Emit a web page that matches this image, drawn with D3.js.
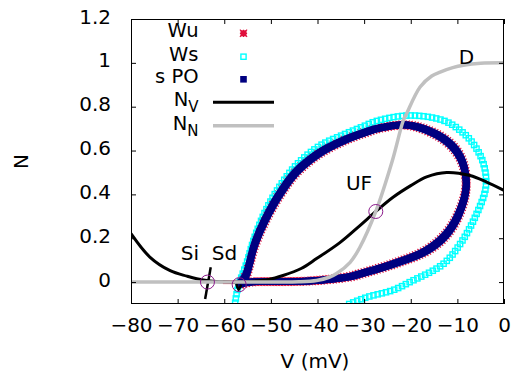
<!DOCTYPE html>
<html><head><meta charset="utf-8">
<script src="https://cdn.jsdelivr.net/npm/d3@7/dist/d3.min.js"></script>
<style>
html,body{margin:0;padding:0;background:#fff;}
svg text{font-family:"DejaVu Sans",sans-serif;fill:#000;}
</style></head>
<body>
<svg id="chart" width="516" height="374"></svg>
<script>
// ---------------- data ----------------
const xTicks = [-80,-70,-60,-50,-40,-30,-20,-10,0];
const yTicks = [0,0.2,0.4,0.6,0.8,1,1.2];

// N_V nullcline (black)
const nvV = [-80,-75.9,-71.6,-68,-65.9,-63,-60,-56.8,-54.5,-50.5,-47.4,-43.5,-40.2,-35.2,-30.9,-27.5,-23.8,-20,-16.6,-12.3,-7.3,-3.7,0];
const nvN = [0.221,0.113,0.052,0.027,0.015,0.005,0.001,0.0,0.003,0.012,0.03,0.062,0.107,0.18,0.258,0.322,0.387,0.44,0.48,0.50,0.486,0.456,0.418];
// short steep pieces of N_V near Si and Sd
const nvSiV = [-62.9,-64.1];
const nvSiN = [0.068,-0.077];
const nvSdV = [-57.4,-56.9,-56.4];
const nvSdN = [-0.008,-0.035,-0.012];

// N_N nullcline (gray)
const nnV = [-80,-50,-44,-40.2,-37.5,-35.9,-33,-30.9,-27.5,-24,-21.6,-20.9,-18,-15.5,-13.7,-11,-8.7,-5,0];
const nnN = [0,0,0.001,0.007,0.022,0.039,0.09,0.159,0.322,0.55,0.737,0.768,0.89,0.94,0.958,0.978,0.989,0.998,1.0];

// stable periodic orbit (navy)
const poV = [-56.8,-55.5,-53.4,-50.9,-48,-44.5,-39.5,-34.5,-30.2,-26.6,-20.2,-13,-9.4,-8.1,-9.4,-12.3,-16.6,-23.7,-30.9,-33,-40.2,-47,-54.5,-56.8];
const poN = [-0.01,0.025,0.177,0.298,0.405,0.504,0.59,0.645,0.68,0.703,0.715,0.654,0.57,0.448,0.326,0.22,0.144,0.083,0.037,0.025,0.007,0.002,0.0,-0.01];

// unstable manifold of Sd (red)
const wuV = [-56.8,-55.5,-53.4,-50.9,-48,-44.5,-39.5,-34.5,-30.2,-26.6,-20.2,-13,-9.4,-8.1,-9.4,-12.3,-16.6,-23.7,-30.9,-33,-40.2,-47,-54.5,-56.8];
const wuN = [-0.01,0.025,0.177,0.298,0.405,0.504,0.59,0.645,0.68,0.703,0.715,0.654,0.57,0.448,0.326,0.22,0.144,0.083,0.037,0.025,0.007,0.002,0.0,-0.01];
const wuLeftV = [-56.8,-58.5,-60.3];
const wuLeftN = [0.0,0.0,0.0];

// stable manifold of Sd (cyan)
const wsV = [-33.2,-29.4,-23.7,-20.2,-13,-9.4,-6.2,-3.9,-4.4,-6.6,-9.4,-13,-20.2,-27.3,-30.2,-34.5,-39.5,-44.5,-48,-50.9,-53.4,-55.3,-57.0,-57.7];
const wsN = [-0.1,-0.069,-0.036,0.0,0.083,0.174,0.296,0.433,0.54,0.631,0.692,0.737,0.76,0.735,0.71,0.672,0.622,0.535,0.44,0.335,0.21,0.08,-0.02,-0.1];

// equilibria
const eqNames = ["Si","Sd","UF"];
const eqV = [-63.6,-56.8,-27.5];
const eqN = [0.0,-0.012,0.322];

const legendNames = ["Wu","Ws","s PO"];

// ---------------- drawing ----------------
const svg = d3.select("#chart");
const L = 131, R = 504, T = 19, B = 304;
const x = d3.scaleLinear().domain([-80,0]).range([L,R]);
const y = d3.scaleLinear().domain([-0.1,1.2]).range([B,T]);

svg.append("defs").append("clipPath").attr("id","clip")
  .append("rect").attr("x",L).attr("y",T).attr("width",R-L).attr("height",B-T);

const plot = svg.append("g").attr("clip-path","url(#clip)");
const line = d3.line().x(d=>x(d[0])).y(d=>y(d[1])).curve(d3.curveCatmullRom.alpha(0.5));
const zip = (a,b)=>a.map((v,i)=>[v,b[i]]);

function samplePath(pts, step){
  const p = plot.append("path").attr("d", line(pts)).attr("fill","none").attr("stroke","none");
  const node = p.node(), len = node.getTotalLength(), out=[];
  for(let s=0;s<=len;s+=step){ const q=node.getPointAtLength(s); out.push([q.x,q.y]); }
  p.remove();
  return out;
}

// Wu (red stars)
const red = "#e0103c";
plot.append("path").attr("d", line(zip(wuLeftV,wuLeftN))).attr("fill","none")
  .attr("stroke",red).attr("stroke-width",4);
const wuPts = samplePath(zip(wuV,wuN), 3);
const starG = plot.append("g").attr("stroke",red).attr("stroke-width",1.1);
wuPts.forEach(p=>{
  const s=4.2;
  starG.append("path").attr("d",`M${p[0]-s},${p[1]-s}L${p[0]+s},${p[1]+s}M${p[0]-s},${p[1]+s}L${p[0]+s},${p[1]-s}M${p[0]-s},${p[1]}L${p[0]+s},${p[1]}M${p[0]},${p[1]-s}L${p[0]},${p[1]+s}`);
});

// Ws (cyan open squares)
const wsPts = samplePath(zip(wsV,wsN), 4.3);
plot.append("g").selectAll("rect").data(wsPts).join("rect")
  .attr("x",d=>d[0]-2.6).attr("y",d=>d[1]-2.6).attr("width",5.2).attr("height",5.2)
  .attr("fill","none").attr("stroke","#00ffff").attr("stroke-width",1.4);

// s PO (navy filled squares)
const poPts = samplePath(zip(poV,poN), 1.2);
plot.append("g").selectAll("rect").data(poPts).join("rect")
  .attr("x",d=>d[0]-3.3).attr("y",d=>d[1]-3.3).attr("width",6.6).attr("height",6.6)
  .attr("fill","#000080");

// N_V
plot.append("path").attr("d", line(zip(nvV,nvN))).attr("fill","none").attr("stroke","#000").attr("stroke-width",3);
plot.append("path").attr("d", line(zip(nvSiV,nvSiN))).attr("fill","none").attr("stroke","#000").attr("stroke-width",2.5);
plot.append("path").attr("d", line(zip(nvSdV,nvSdN))).attr("fill","none").attr("stroke","#000").attr("stroke-width",2.5);

// N_N
plot.append("path").attr("d", line(zip(nnV,nnN))).attr("fill","none").attr("stroke","#c0c0c0").attr("stroke-width",3.5);

// equilibria circles
plot.append("g").selectAll("circle").data(eqV).join("circle")
  .attr("cx",(d,i)=>x(eqV[i])).attr("cy",(d,i)=>y(eqN[i])).attr("r",7)
  .attr("fill","none").attr("stroke","#8b1a8b").attr("stroke-width",1);

// ---------------- axes / frame ----------------
const fs = "20px";
const ax = svg.append("g");
const gB = ax.append("g").attr("transform",`translate(0,${B})`)
  .call(d3.axisBottom(x).tickValues(xTicks).tickSizeInner(-5).tickSizeOuter(0).tickPadding(13.5).tickFormat(d3.format("d")));
const gT = ax.append("g").attr("transform",`translate(0,${T})`)
  .call(d3.axisTop(x).tickValues(xTicks).tickSizeInner(-5).tickSizeOuter(0).tickFormat(""));
const gL = ax.append("g").attr("transform",`translate(${L},0)`)
  .call(d3.axisLeft(y).tickValues(yTicks).tickSizeInner(-5).tickSizeOuter(0).tickPadding(20).tickFormat(d=>String(+d.toFixed(1))));
const gR = ax.append("g").attr("transform",`translate(${R},0)`)
  .call(d3.axisRight(y).tickValues(yTicks).tickSizeInner(-5).tickSizeOuter(0).tickFormat(""));
[gB,gT,gL,gR].forEach(g=>{
  g.select(".domain").remove();
  g.selectAll("line").attr("stroke","#000").attr("stroke-width",1);
  g.selectAll("text").style("font-size",fs).attr("fill","#000").style("font-family","DejaVu Sans");
});
gL.selectAll("text").attr("dy","0.2em");
svg.append("rect").attr("x",L+0.5).attr("y",T+0.5).attr("width",R-L-1).attr("height",B-T-1)
  .attr("fill","none").attr("stroke","#000").attr("stroke-width",1);

// axis titles
svg.append("text").attr("x",315).attr("y",368).attr("text-anchor","middle").style("font-size",fs).text("V (mV)");
svg.append("text").attr("transform","translate(28,161.5) rotate(-90)").attr("text-anchor","middle").style("font-size",fs).text("N");

// annotations
const ann = [["Si",190,260],["Sd",224.5,260],["UF",359,189.5],["D",466.5,64]];
ann.forEach(a=>svg.append("text").attr("x",a[1]).attr("y",a[2]).attr("text-anchor","middle").style("font-size",fs).text(a[0]));

// ---------------- legend ----------------
const lgX = 198.5, mX = 243.5;
const lg = svg.append("g");
const base = [36.7,61,83.3,106,130];
legendNames.forEach((n,i)=>lg.append("text").attr("x",lgX).attr("y",base[i]).attr("text-anchor","end").style("font-size","19.5px").text(n));
// markers
{
  const cy=33.3, s=3.6;
  lg.append("rect").attr("x",mX-3).attr("y",cy-3).attr("width",6).attr("height",6).attr("fill",red);
  lg.append("path").attr("d",`M${mX-s},${cy-s}L${mX+s},${cy+s}M${mX-s},${cy+s}L${mX+s},${cy-s}M${mX-s},${cy}L${mX+s},${cy}M${mX},${cy-s}L${mX},${cy+s}`).attr("stroke",red).attr("stroke-width",1.2);
  lg.append("rect").attr("x",mX-2.6).attr("y",56.7-2.6).attr("width",5.2).attr("height",5.2).attr("fill","none").attr("stroke","#00ffff").attr("stroke-width",1.4);
  lg.append("rect").attr("x",mX-3.3).attr("y",79.3-3.3).attr("width",6.6).attr("height",6.6).attr("fill","#000080");
}
function subLabel(yb, sub){
  const t = lg.append("text").attr("x",lgX).attr("y",yb).attr("text-anchor","end").style("font-size","19.5px");
  t.append("tspan").text("N");
  t.append("tspan").attr("dy",5.5).style("font-size","15px").text(sub);
}
subLabel(106,"V");
subLabel(130,"N");
lg.append("line").attr("x1",213).attr("x2",274).attr("y1",102.3).attr("y2",102.3).attr("stroke","#000").attr("stroke-width",3);
lg.append("line").attr("x1",213).attr("x2",274).attr("y1",125.7).attr("y2",125.7).attr("stroke","#c0c0c0").attr("stroke-width",3.5);
</script>
</body></html>
